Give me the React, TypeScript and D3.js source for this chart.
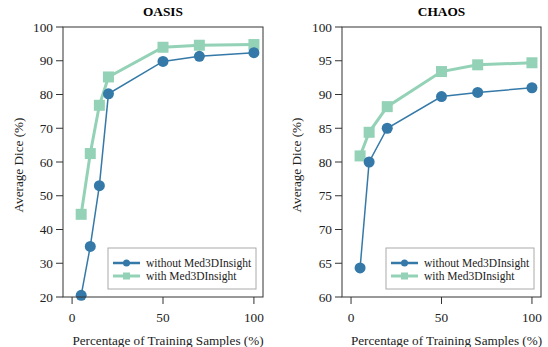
import React from "react";
import * as d3 from "d3";

const oasisX = [5, 10, 15, 20, 50, 70, 100];
const oasisWithout = [20.5, 35, 53, 80.2, 89.8, 91.3, 92.4];
const oasisWith = [44.5, 62.5, 76.8, 85.2, 94, 94.6, 94.8];
const oasisYTicks = [20, 30, 40, 50, 60, 70, 80, 90, 100];

const chaosX = [5, 10, 20, 50, 70, 100];
const chaosWithout = [64.3, 80, 85, 89.7, 90.3, 91];
const chaosWith = [80.9, 84.4, 88.2, 93.4, 94.4, 94.7];
const chaosYTicks = [60, 65, 70, 75, 80, 85, 90, 95, 100];

const xTicks = [0, 50, 100];
const seriesNames = ["without Med3DInsight", "with Med3DInsight"];

const BLUE = "#3579a8";
const GREEN = "#93d2b6";
const FONT = "Liberation Serif";

type PanelProps = {
  title: string;
  left: number;
  right: number;
  xs: number[];
  without: number[];
  withV: number[];
  yDomain: [number, number];
  yTicks: number[];
  yLabelX: number;
};

function Panel({ title, left, right, xs, without, withV, yDomain, yTicks, yLabelX }: PanelProps) {
  const top = 27;
  const bottom = 297;
  const x = d3.scaleLinear().domain([-5, 105]).range([left, right]);
  const y = d3.scaleLinear().domain(yDomain).range([bottom, top]);
  const line = d3
    .line<[number, number]>()
    .x((d) => x(d[0]))
    .y((d) => y(d[1]));
  const ptsWithout: [number, number][] = xs.map((v, i) => [v, without[i]]);
  const ptsWith: [number, number][] = xs.map((v, i) => [v, withV[i]]);
  const cx = (left + right) / 2;
  const legL = right - 155;
  const legT = 248;
  return (
    <g>
      <text x={cx} y={15.5} textAnchor="middle" fontFamily={FONT} fontWeight="bold" fontSize={13.3} fill="#000">
        {title}
      </text>
      <path d={line(ptsWith) || ""} fill="none" stroke={GREEN} strokeWidth={3} />
      {ptsWith.map((p, i) => (
        <rect key={"w" + i} x={x(p[0]) - 5.5} y={y(p[1]) - 5.5} width={11} height={11} fill={GREEN} />
      ))}
      <path d={line(ptsWithout) || ""} fill="none" stroke={BLUE} strokeWidth={1.5} />
      {ptsWithout.map((p, i) => (
        <circle key={"o" + i} cx={x(p[0])} cy={y(p[1])} r={5.5} fill={BLUE} />
      ))}
      <rect x={left} y={top} width={right - left} height={bottom - top} fill="none" stroke="#333" strokeWidth={1} />
      {yTicks.map((t) => (
        <g key={"y" + t}>
          <line x1={left - 7} x2={left} y1={y(t)} y2={y(t)} stroke="#333" strokeWidth={1} />
          <text x={left - 10} y={y(t)} dy="0.35em" textAnchor="end" fontFamily={FONT} fontSize={13.3} fill="#222">
            {t}
          </text>
        </g>
      ))}
      {xTicks.map((t) => (
        <g key={"x" + t}>
          <line x1={x(t)} x2={x(t)} y1={bottom} y2={bottom + 7} stroke="#333" strokeWidth={1} />
          <text x={x(t)} y={bottom + 20} dy="0.35em" textAnchor="middle" fontFamily={FONT} fontSize={13.3} fill="#222">
            {t}
          </text>
        </g>
      ))}
      <text x={cx + 5} y={340} dy="0.35em" textAnchor="middle" fontFamily={FONT} fontSize={13.2} fill="#222">
        Percentage of Training Samples (%)
      </text>
      <text
        transform={`translate(${yLabelX},${(top + bottom) / 2 + 3}) rotate(-90)`}
        dy="0.35em"
        textAnchor="middle"
        fontFamily={FONT}
        fontSize={13.2}
        fill="#222"
      >
        Average Dice (%)
      </text>
      <rect x={legL} y={legT} width={148} height={41} fill="#fff" fillOpacity={0.9} stroke="#aaa" strokeWidth={1} />
      {seriesNames.map((name, i) => {
        const ly = legT + 15 + i * 13;
        const color = i === 0 ? BLUE : GREEN;
        const lx1 = legL + 5;
        const lx2 = legL + 32;
        const mx = (lx1 + lx2) / 2;
        return (
          <g key={name}>
            <line x1={lx1} x2={lx2} y1={ly} y2={ly} stroke={color} strokeWidth={i === 0 ? 2.5 : 3} />
            {i === 0 ? (
              <circle cx={mx} cy={ly} r={3.5} fill={color} />
            ) : (
              <rect x={mx - 3.5} y={ly - 3.5} width={7} height={7} fill={color} />
            )}
            <text x={legL + 38} y={ly} dy="0.35em" fontFamily={FONT} fontSize={11.5} fill="#222">
              {name}
            </text>
          </g>
        );
      })}
    </g>
  );
}

export default function App() {
  return (
    <svg width={548} height={347} style={{ position: "absolute", left: 0, top: 0, background: "#fff" }}>
      <rect width={548} height={347} fill="#fff" />
      <Panel
        title="OASIS"
        left={63}
        right={263}
        xs={oasisX}
        without={oasisWithout}
        withV={oasisWith}
        yDomain={[20, 100]}
        yTicks={oasisYTicks}
        yLabelX={18}
      />
      <Panel
        title="CHAOS"
        left={342}
        right={541}
        xs={chaosX}
        without={chaosWithout}
        withV={chaosWith}
        yDomain={[60, 100]}
        yTicks={chaosYTicks}
        yLabelX={296}
      />
    </svg>
  );
}
